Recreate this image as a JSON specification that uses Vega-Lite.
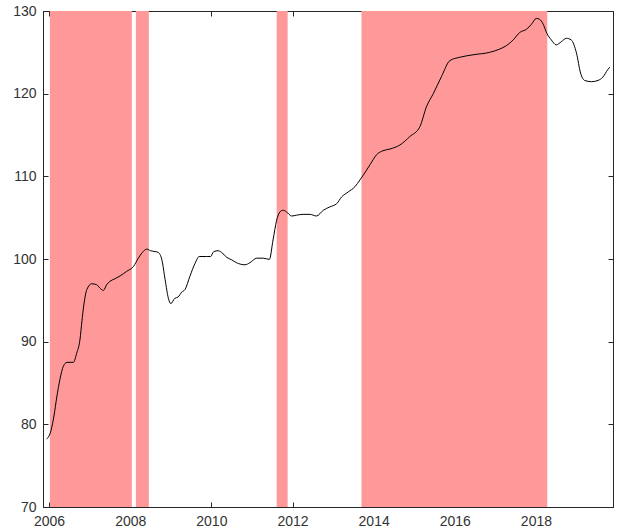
{
  "$schema": "https://vega.github.io/schema/vega-lite/v6.json",
  "width": 570,
  "height": 496,
  "autosize": {"type": "none"},
  "padding": {"left": 43, "top": 11, "right": 6, "bottom": 25},
  "background": "white",
  "config": {
    "view": {"stroke": "#262626", "strokeWidth": 1},
    "axis": {
      "labelFont": "Liberation Sans",
      "labelFontSize": 14,
      "labelColor": "#333333",
      "domainColor": "#262626",
      "tickColor": "#262626",
      "grid": false,
      "zindex": 1
    }
  },
  "datasets": {
    "series": [
      {"t": 2005.94, "v": 78.2}, {"t": 2006.05, "v": 79.3}, {"t": 2006.12, "v": 81.0}, {"t": 2006.19, "v": 83.3},
      {"t": 2006.27, "v": 85.5}, {"t": 2006.35, "v": 87.0}, {"t": 2006.44, "v": 87.5}, {"t": 2006.60, "v": 87.5},
      {"t": 2006.68, "v": 88.6}, {"t": 2006.76, "v": 90.2}, {"t": 2006.81, "v": 92.5}, {"t": 2006.85, "v": 94.2},
      {"t": 2006.93, "v": 96.3}, {"t": 2007.05, "v": 97.0}, {"t": 2007.17, "v": 96.9}, {"t": 2007.25, "v": 96.5},
      {"t": 2007.34, "v": 96.2}, {"t": 2007.42, "v": 96.9}, {"t": 2007.50, "v": 97.3}, {"t": 2007.62, "v": 97.6},
      {"t": 2007.75, "v": 97.95}, {"t": 2007.91, "v": 98.5}, {"t": 2008.08, "v": 99.1}, {"t": 2008.20, "v": 100.1},
      {"t": 2008.30, "v": 100.8}, {"t": 2008.41, "v": 101.2}, {"t": 2008.50, "v": 101.0}, {"t": 2008.61, "v": 100.9},
      {"t": 2008.69, "v": 100.8}, {"t": 2008.78, "v": 99.9}, {"t": 2008.86, "v": 97.5}, {"t": 2008.94, "v": 95.25},
      {"t": 2009.00, "v": 94.6}, {"t": 2009.10, "v": 95.25}, {"t": 2009.18, "v": 95.4}, {"t": 2009.27, "v": 96.0},
      {"t": 2009.35, "v": 96.3}, {"t": 2009.47, "v": 97.9}, {"t": 2009.60, "v": 99.5}, {"t": 2009.70, "v": 100.3},
      {"t": 2009.88, "v": 100.3}, {"t": 2009.98, "v": 100.3}, {"t": 2010.06, "v": 100.9}, {"t": 2010.17, "v": 101.0},
      {"t": 2010.25, "v": 100.8}, {"t": 2010.38, "v": 100.2}, {"t": 2010.50, "v": 99.9}, {"t": 2010.62, "v": 99.55},
      {"t": 2010.83, "v": 99.3}, {"t": 2010.95, "v": 99.55}, {"t": 2011.12, "v": 100.1}, {"t": 2011.28, "v": 100.1},
      {"t": 2011.43, "v": 99.95}, {"t": 2011.52, "v": 102.3}, {"t": 2011.61, "v": 104.7}, {"t": 2011.69, "v": 105.7},
      {"t": 2011.77, "v": 105.9}, {"t": 2011.85, "v": 105.7}, {"t": 2011.98, "v": 105.2}, {"t": 2012.10, "v": 105.3},
      {"t": 2012.26, "v": 105.4}, {"t": 2012.43, "v": 105.4}, {"t": 2012.59, "v": 105.2}, {"t": 2012.76, "v": 105.9},
      {"t": 2012.92, "v": 106.3}, {"t": 2013.09, "v": 106.7}, {"t": 2013.21, "v": 107.5}, {"t": 2013.37, "v": 108.1},
      {"t": 2013.54, "v": 108.75}, {"t": 2013.66, "v": 109.55}, {"t": 2013.78, "v": 110.4}, {"t": 2013.91, "v": 111.4},
      {"t": 2014.07, "v": 112.6}, {"t": 2014.23, "v": 113.1}, {"t": 2014.40, "v": 113.3}, {"t": 2014.65, "v": 113.8},
      {"t": 2014.89, "v": 114.8}, {"t": 2015.14, "v": 116.0}, {"t": 2015.30, "v": 118.4}, {"t": 2015.47, "v": 120.0},
      {"t": 2015.67, "v": 122.05}, {"t": 2015.88, "v": 124.0}, {"t": 2016.12, "v": 124.4}, {"t": 2016.45, "v": 124.7},
      {"t": 2016.86, "v": 125.0}, {"t": 2017.11, "v": 125.4}, {"t": 2017.27, "v": 125.8}, {"t": 2017.44, "v": 126.5},
      {"t": 2017.60, "v": 127.4}, {"t": 2017.77, "v": 127.8}, {"t": 2017.89, "v": 128.4}, {"t": 2018.01, "v": 129.1},
      {"t": 2018.09, "v": 129.0}, {"t": 2018.18, "v": 128.4}, {"t": 2018.27, "v": 127.3}, {"t": 2018.38, "v": 126.5},
      {"t": 2018.50, "v": 125.9}, {"t": 2018.63, "v": 126.3}, {"t": 2018.75, "v": 126.7}, {"t": 2018.87, "v": 126.5},
      {"t": 2019.00, "v": 124.9}, {"t": 2019.10, "v": 122.5}, {"t": 2019.20, "v": 121.6}, {"t": 2019.37, "v": 121.45},
      {"t": 2019.53, "v": 121.6}, {"t": 2019.65, "v": 122.0}, {"t": 2019.77, "v": 122.9}, {"t": 2019.82, "v": 123.2}
    ],
    "bands": [
      {"start": 2006.02, "end": 2008.04},
      {"start": 2008.14, "end": 2008.46},
      {"start": 2011.61, "end": 2011.88},
      {"start": 2013.70, "end": 2018.28}
    ]
  },
  "layer": [
    {
      "data": {"name": "bands"},
      "mark": {"type": "rect", "color": "#ff9999", "opacity": 1},
      "encoding": {
        "x": {
          "field": "start", "type": "quantitative",
          "scale": {"domain": [2005.85, 2019.9], "nice": false, "zero": false},
          "axis": {"orient": "bottom", "title": null, "values": [2006, 2008, 2010, 2012, 2014, 2016, 2018], "format": "d", "tickSize": -5, "labelPadding": 12}
        },
        "x2": {"field": "end"}
      }
    },
    {
      "data": {"name": "series"},
      "mark": {"type": "line", "color": "#000000", "strokeWidth": 1, "interpolate": "monotone"},
      "encoding": {
        "x": {
          "field": "t", "type": "quantitative",
          "axis": {"orient": "top", "title": null, "values": [2006, 2008, 2010, 2012, 2014, 2016, 2018], "labels": false, "tickSize": -5}
        },
        "y": {
          "field": "v", "type": "quantitative",
          "scale": {"domain": [70, 130], "nice": false, "zero": false},
          "axis": {"orient": "left", "title": null, "values": [70, 80, 90, 100, 110, 120, 130], "tickSize": -5, "labelPadding": 12}
        }
      }
    },
    {
      "data": {"name": "series"},
      "mark": {"type": "line", "strokeOpacity": 0},
      "encoding": {
        "x": {"field": "t", "type": "quantitative", "axis": null},
        "y": {
          "field": "v", "type": "quantitative",
          "axis": {"orient": "right", "title": null, "values": [70, 80, 90, 100, 110, 120, 130], "labels": false, "tickSize": -5}
        }
      }
    }
  ],
  "resolve": {"axis": {"x": "independent", "y": "independent"}}
}
